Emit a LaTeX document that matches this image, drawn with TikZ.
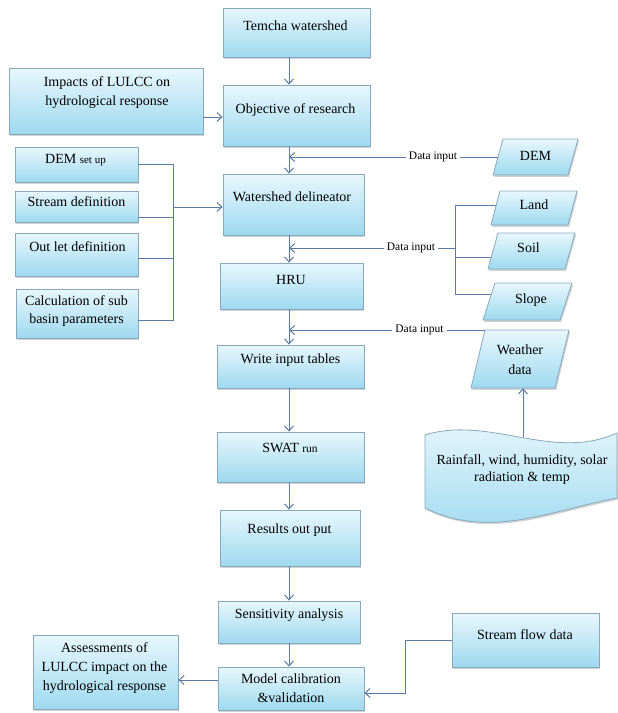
\documentclass[tikz,border=0pt]{standalone}
\usepackage{fontspec}
\setmainfont{Liberation Serif}
\usetikzlibrary{arrows.meta,shadows,calc}
\definecolor{boxtop}{HTML}{E8F7FC}
\definecolor{boxbot}{HTML}{9ED9F0}
\definecolor{boxline}{HTML}{86A9BC}
\definecolor{conn}{HTML}{5A7BA3}
% parallelogram: name, cx, cy, total width, height, slant
\newcommand{\myparabox}[6]{%
  \path[box] (#2-#4/2, #3+#5/2) -- (#2+#4/2-#6, #3+#5/2) -- (#2+#4/2, #3-#5/2)
    -- (#2-#4/2+#6, #3-#5/2) -- cycle;
  \node[minimum width=#4-#6, minimum height=#5, inner sep=0pt] (#1) at (#2,#3) {};
  \coordinate (#1-tl) at (#2-#4/2+#6, #3-#5/2);
  \coordinate (#1-bl) at (#2-#4/2, #3+#5/2);
}
\begin{document}
\begin{tikzpicture}[x=1pt,y=-1pt,
  box/.style={draw=boxline, line width=0.8pt, top color=boxtop, bottom color=boxbot,
    drop shadow={shadow xshift=1.2pt,shadow yshift=-1.8pt,opacity=0.35}, inner sep=0pt},
  txt/.style={font=\fontsize{14}{19}\selectfont, align=center, inner sep=0pt},
  lab/.style={font=\fontsize{11.5}{13}\selectfont, fill=white, inner xsep=3pt, inner ysep=1pt},
  arr/.style={draw=conn, line width=1pt, -{Straight Barb[length=5pt,width=9pt]}},
  ln/.style={draw=conn, line width=1pt}]
\useasboundingbox (0,0) rectangle (618,713);

% main column boxes
\node[box, minimum width=147, minimum height=49] (temcha) at (296.5,32.5) {};
\node[box, minimum width=147, minimum height=61] (obj) at (296.5,115.5) {};
\node[box, minimum width=141, minimum height=61] (wsd) at (293.5,204.5) {};
\node[box, minimum width=143, minimum height=46] (hru) at (291.5,286) {};
\node[box, minimum width=147, minimum height=43] (wit) at (290.5,366.5) {};
\node[box, minimum width=147, minimum height=50] (swat) at (290.5,457) {};
\node[box, minimum width=140, minimum height=56] (results) at (290,538) {};
\node[box, minimum width=142, minimum height=42] (sens) at (289,622) {};
\node[box, minimum width=146, minimum height=43] (model) at (291,688.5) {};

% left boxes
\node[box, minimum width=194, minimum height=66] (impacts) at (106,101) {};
\node[box, minimum width=123, minimum height=35] (demsetup) at (76.5,164.5) {};
\node[box, minimum width=123, minimum height=31] (streamdef) at (76.5,206.5) {};
\node[box, minimum width=123, minimum height=43] (outlet) at (76.5,254.5) {};
\node[box, minimum width=122, minimum height=49] (calc) at (77,313.5) {};
\node[box, minimum width=145, minimum height=74] (assess) at (105.5,672) {};

% right boxes
\node[box, minimum width=147, minimum height=54] (sflow) at (525.5,640) {};
\myparabox{dem}{535.5}{157}{85}{36}{10}
\myparabox{land}{534}{208}{86}{34}{9}
\myparabox{soil}{531.5}{251}{87}{36}{10}
\myparabox{slope}{527.5}{301.5}{89}{37}{12}
\myparabox{weather}{520}{359}{98}{58}{14}

% wave
\path[box] (425,435) .. controls (489,415) and (553,462) .. (617,433)
  -- (617,498) .. controls (553,510) and (489,540) .. (425,508) -- cycle;

% texts
\node[txt] (t-temcha) at (295.5,26) {Temcha watershed};
\node[txt] (t-obj) at (295.5,110) {Objective of research};
\node[txt] (t-wsd) at (292,197) {Watershed delineator};
\node[txt] (t-hru) at (291,280) {HRU};
\node[txt] (t-wit) at (290.5,360) {Write input tables};
\node[txt] (t-swat) at (290,448) {SWAT {\fontsize{11.5}{13}\selectfont run}};
\node[txt] (t-results) at (289.5,530) {Results out put};
\node[txt] (t-sens) at (289,615) {Sensitivity analysis};
\node[txt] (t-model) at (291,688) {Model calibration\\\&validation};
\node[txt] (t-impacts) at (107,93) {Impacts of LULCC on\\hydrological response};
\node[txt] (t-demsetup) at (75.5,160) {DEM {\fontsize{11}{13}\selectfont set up}};
\node[txt] (t-streamdef) at (76.5,202) {Stream definition};
\node[txt] (t-outlet) at (77.5,247) {Out let definition};
\node[txt,font=\fontsize{14}{18}\selectfont] (t-calc) at (76.5,311) {Calculation of sub\\basin parameters};
\node[txt] (t-assess) at (104.5,668) {Assessments of\\LULCC impact on the\\hydrological response};
\node[txt] (t-sflow) at (525,635) {Stream flow data};
\node[txt] (t-dem) at (535.5,156) {DEM};
\node[txt] (t-land) at (534,205) {Land};
\node[txt] (t-soil) at (528.5,248) {Soil};
\node[txt] (t-slope) at (531,300) {Slope};
\node[txt,font=\fontsize{14}{20}\selectfont] (t-weather) at (520,360) {Weather\\data};
\node[txt,font=\fontsize{14}{17}\selectfont] (t-wave) at (522,469.5) {Rainfall, wind, humidity, solar\\radiation \& temp};

% main column arrows
\coordinate (mx) at (289,0);
\draw[arr] (temcha.south -| mx) -- (obj.north -| mx);
\draw[arr] (obj.south -| mx) -- (wsd.north -| mx);
\draw[arr] (wsd.south -| mx) -- (hru.north -| mx);
\draw[arr] (hru.south -| mx) -- (wit.north -| mx);
\draw[arr] (wit.south -| mx) -- (swat.north -| mx);
\draw[arr] (swat.south -| mx) -- (results.north -| mx);
\draw[arr] (results.south -| mx) -- (sens.north -| mx);
\draw[arr] (sens.south -| mx) -- (model.north -| mx);

% impacts -> objective
\coordinate (ia) at ([yshift=-16pt]impacts.east);
\draw[arr] (ia) -- (ia -| obj.west);

% left bracket
\coordinate (bx1) at (173,0);
\coordinate (sd) at ([yshift=-10.5pt]streamdef.east);
\coordinate (ol) at ([yshift=-3.5pt]outlet.east);
\coordinate (cl) at ([yshift=-6.5pt]calc.east);
\coordinate (wa) at ([yshift=-2.5pt]wsd.west);
\draw[ln] (demsetup.east) -- (demsetup.east -| bx1) -- (bx1 |- cl) -- (cl);
\draw[ln] (sd) -- (sd -| bx1);
\draw[ln] (ol) -- (ol -| bx1);
\draw[arr] (bx1 |- wa) -- (wa);

% data input 1 (DEM)
\draw[arr] (dem.west) -- node[lab,pos=0.31] (di1) {Data input} (dem.west -| mx);

% right bracket (land, soil, slope)
\coordinate (bx2) at (455,0);
\coordinate (lp) at ($(land-tl)!0.44!(land-bl)$);
\coordinate (sp) at ($(soil-tl)!0.67!(soil-bl)$);
\coordinate (slp) at ($(slope-tl)!0.32!(slope-bl)$);
\draw[ln] (lp) -- (lp -| bx2) -- (bx2 |- slp) -- (slp);
\draw[ln] (sp) -- (sp -| bx2);
\coordinate (j2) at (455,248);
\draw[arr] (j2) -- node[lab,pos=0.265] (di2) {Data input} (j2 -| mx);

% data input 3 (weather)
\draw[arr] (weather-tl) -- node[lab,pos=0.334] (di3) {Data input} (weather-tl -| mx);

% wave -> weather
\coordinate (wv) at (523,437);
\draw[arr] (wv) -- (wv |- weather.south);

% stream flow -> model
\coordinate (sfx) at (405,0);
\coordinate (sfa) at ([yshift=-4.5pt]model.east);
\draw[arr] (sflow.west) -- (sflow.west -| sfx) -- (sfx |- sfa) -- (sfa);

% model -> assessments
\coordinate (ma) at ([yshift=8.5pt]model.west);
\draw[arr] (ma) -- (ma -| assess.east);
\end{tikzpicture}
\end{document}
